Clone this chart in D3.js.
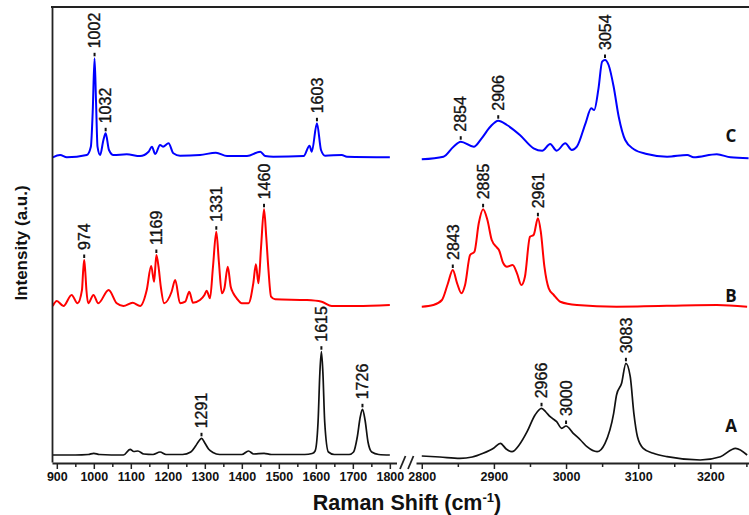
<!DOCTYPE html>
<html><head><meta charset="utf-8">
<script src="https://cdn.jsdelivr.net/npm/d3@7"></script>
<style>
body{margin:0;background:#fff;}
svg{display:block;}
text{font-family:"Liberation Sans",Arial,sans-serif;}
</style></head>
<body><svg id="chart" width="749" height="515"></svg>
<script>
// ---- data (Raman shift cm-1, intensity a.u. incl. stacking offset) ----
const seriesNames = ["A", "B", "C"];
const seriesColors = ["#111111", "#ff0000", "#0000ff"];

const lowTicks = [900,1000,1100,1200,1300,1400,1500,1600,1700,1800];
const highTicks = [2800,2900,3000,3100,3200];
const lowMinor = [950,1050,1150,1250,1350,1450,1550,1650,1750];
const highMinor = [2850,2950,3050,3150,3250];

const aLow = [[889,7],[950,7],[985,7.5],[1000,8.7],[1015,7.5],[1080,7],[1098,12.7],[1108,10.5],[1119,11],[1135,8],[1160,7.5],[1179,10],[1195,7.5],[1240,7.5],[1262,10],[1275,16],[1285,21.5],[1291,23.7],[1300,19],[1310,13],[1322,9.5],[1340,7.5],[1400,7.5],[1418,11],[1432,8],[1460,8.7],[1480,7.5],[1570,7.5],[1590,8.5],[1598,11],[1606,40],[1611,90],[1615,110.3],[1619,90],[1624,40],[1634,10],[1650,7.5],[1690,7.5],[1702,10],[1712,25],[1720,45],[1726,52.7],[1733,42],[1741,20],[1751,10],[1770,7.5],[1800,7]];
const aHigh = [[2800,6],[2825,5],[2853,3.7],[2870,5],[2885,8.7],[2900,14],[2909,18.7],[2917,13],[2925,10.3],[2935,17],[2946,30.3],[2957,47],[2966,53.7],[2972,50],[2978,45.3],[2987,40.3],[2994,33.7],[3000,36],[3010,28.7],[3020,22],[3029,15.3],[3043,10.3],[3054,18.7],[3066,48.7],[3070,67],[3077,78.7],[3083,98.7],[3089,85.3],[3094,48.7],[3099,25.3],[3107,13.7],[3121,8.7],[3140,5.3],[3186,2],[3214,5.3],[3235,13.7],[3251,7]];

const bLow = [[889,156],[900,161],[918,156],[940,167],[956,158.7],[968,172],[971,190],[974,202],[977,190],[980,172],[985,158.7],[999,167],[1012,158.7],[1040,172],[1062,158.7],[1080,156],[1105,159.3],[1125,156],[1143,172],[1155,196],[1163,180.3],[1169,207],[1175,195],[1181,175.3],[1190,158.7],[1210,170],[1220,182],[1233,158.7],[1247,160.3],[1258,170.3],[1268,159.3],[1287,162],[1299,167],[1305,171.3],[1314,163.7],[1322,195],[1331,230.3],[1338,200],[1346,168.7],[1353,173.7],[1362,195.3],[1370,175.3],[1377,168.7],[1386,163.7],[1400,158.7],[1418,158.7],[1431,178.7],[1438,197.7],[1445,178.7],[1452,215],[1460,252.7],[1466,225],[1472,192],[1479,165.3],[1490,162.7],[1576,162],[1616,160.3],[1643,156],[1711,156],[1800,157]];
const bHigh = [[2800,155.3],[2816,157],[2828,162],[2836,178],[2843,192],[2849,178.7],[2855,168.7],[2860,177],[2867,207],[2873,210.3],[2879,238.7],[2885,252.7],[2891,242],[2897,222],[2904,214.7],[2907,212],[2913,198.7],[2918,195.3],[2926,197],[2932,188.7],[2938,177],[2943,185.3],[2950,225.3],[2955,227],[2961,243.7],[2965,230.3],[2970,195.3],[2976,173.7],[2983,167],[2992,160.3],[3015,157],[3070,155.3],[3209,157],[3251,155.3]];

const cLow = [[889,304.7],[909,307],[927,304.7],[981,307],[992,315.3],[997,350],[1002,403.7],[1006,360],[1010,315.3],[1017,307],[1026,322],[1032,328.7],[1041,312],[1053,307],[1089,307.7],[1125,306],[1148,310.3],[1157,315.3],[1166,308],[1179,317],[1187,315.3],[1202,318.7],[1215,308.7],[1233,306.3],[1287,307],[1330,309.3],[1360,306],[1414,306],[1450,310.3],[1463,306],[1485,305.3],[1567,306],[1583,316.3],[1589,310.3],[1603,338.7],[1614,312],[1625,306.3],[1670,307],[1684,305.3],[1800,304.7]];
const cHigh = [[2800,302.7],[2830,305.3],[2844,315.3],[2854,320.3],[2872,315.3],[2883,323.7],[2895,335.3],[2906,341.3],[2918,337],[2936,327],[2955,313.7],[2967,311.3],[2978,318],[2987,311.3],[2999,318.7],[3008,312],[3015,315.3],[3027,338.7],[3035,353.7],[3039,352],[3045,373.7],[3050,400.3],[3054,402],[3059,397],[3066,375.3],[3073,345.3],[3082,322],[3094,312.7],[3112,308],[3140,305.3],[3168,307],[3177,304.7],[3209,307.7],[3228,304.7],[3253,303.7]];

// peak labels: [wavenumber, intensity at top of peak]
const aPeaks = [[1291,23.7],[1615,110.3],[1726,52.7],[2966,53.7],[3000,36],[3083,98.7]];
const bPeaks = [[974,202],[1169,207],[1331,230.3],[1460,252.7],[2843,192],[2885,252.7],[2961,243.7]];
const cPeaks = [[1002,403.7],[1032,328.7],[1603,338.7],[2854,320.3],[2906,341.3],[3054,402]];
const seriesLabelLevel = [30, 160, 320];

// ---- layout ----
const svg = d3.select("#chart");
const xLow = d3.scaleLinear().domain([887, 1818]).range([52, 396.5]);
const xHigh = d3.scaleLinear().domain([2792, 3255]).range([416, 750]);
const y = d3.scaleLinear().domain([0, 455]).range([462, 7]);
const X = v => v < 2000 ? xLow(v) : xHigh(v);
const axisY = 463;

const series = [
  {low:aLow, high:aHigh, peaks:aPeaks},
  {low:bLow, high:bHigh, peaks:bPeaks},
  {low:cLow, high:cHigh, peaks:cPeaks}
];

const line = d3.line().x(d => X(d[0])).y(d => y(d[1])).curve(d3.curveMonotoneX);

series.forEach((s, i) => {
  [s.low, s.high].forEach(arr => {
    svg.append("path").attr("d", line(arr)).attr("fill", "none")
      .attr("stroke", seriesColors[i]).attr("stroke-width", i === 0 ? 1.7 : 2)
      .attr("stroke-linejoin", "round");
  });
  const g = svg.append("g");
  s.peaks.forEach(p => {
    const px = X(p[0]), py = y(p[1]);
    g.append("line").attr("x1", px).attr("x2", px).attr("y1", py - 2).attr("y2", py - 5.5)
      .attr("stroke", "#111").attr("stroke-width", 2);
    g.append("text").attr("transform", `translate(${px},${py - 10}) rotate(-90)`)
      .attr("dy", "0.36em").attr("font-size", 16).attr("fill", "#111")
      .attr("stroke", "#111").attr("stroke-width", 0.35)
      .text(p[0]);
  });
  svg.append("text").attr("x", 731).attr("y", y(seriesLabelLevel[i]))
    .attr("text-anchor", "middle").attr("font-size", 17).attr("font-weight", "bold")
    .style("font-family", "'Open Sans',sans-serif").attr("fill", "#111")
    .text(seriesNames[i]);
});

// ---- axes ----
function bottom(scale, majors, minors) {
  const gM = svg.append("g").attr("transform", `translate(0,${axisY})`)
    .call(d3.axisBottom(scale).tickValues(majors).tickFormat(d3.format("d"))
      .tickSize(6).tickSizeOuter(0).tickPadding(3));
  gM.selectAll("text").attr("font-size", 12.5).attr("font-weight", "bold").attr("fill", "#111")
    .style("font-family", "'Liberation Sans',Arial,sans-serif");
  const gm = svg.append("g").attr("transform", `translate(0,${axisY})`)
    .call(d3.axisBottom(scale).tickValues(minors).tickSize(4).tickFormat(""));
  gm.select(".domain").remove();
  svg.selectAll(".domain").attr("stroke", "#222").attr("stroke-width", 1.8);
  svg.selectAll(".tick line").attr("stroke", "#222").attr("stroke-width", 1.5);
}
bottom(xLow, lowTicks, lowMinor);
bottom(xHigh, highTicks, highMinor);

svg.append("g").attr("transform", "translate(52,0)")
  .call(d3.axisLeft(y).tickValues([]).tickSizeOuter(0))
  .select(".domain").attr("stroke", "#222").attr("stroke-width", 1.8);
svg.append("line").attr("x1", 51).attr("x2", 749).attr("y1", y(455)).attr("y2", y(455))
  .attr("stroke", "#222").attr("stroke-width", 1.8);

// break marks
[0, 8].forEach(o => {
  svg.append("line").attr("x1", 400 + o).attr("y1", 469).attr("x2", 405.5 + o).attr("y2", 456)
    .attr("stroke", "#222").attr("stroke-width", 1.8);
});

// titles
const xt = svg.append("text").attr("x", 407).attr("y", 510).attr("text-anchor", "middle")
  .attr("font-size", 21.5).attr("font-weight", "bold").attr("fill", "#111");
xt.append("tspan").text("Raman Shift (cm");
xt.append("tspan").attr("font-size", 13).attr("dy", -8).text("-1");
xt.append("tspan").attr("dy", 8).text(")");

svg.append("text").attr("transform", "translate(27,243) rotate(-90)")
  .attr("text-anchor", "middle").attr("font-size", 17).attr("font-weight", "bold")
  .attr("fill", "#111").text("Intensity (a.u.)");
</script></body></html>
